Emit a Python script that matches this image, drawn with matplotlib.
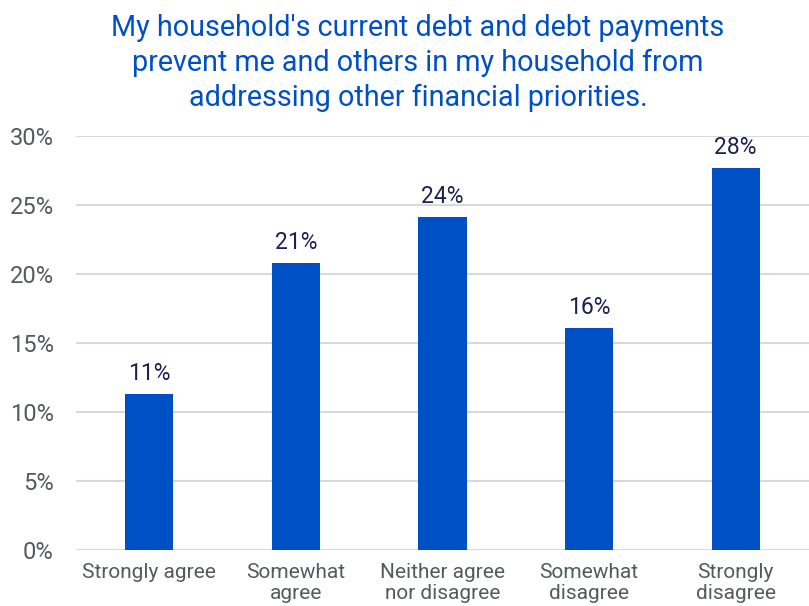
import matplotlib
matplotlib.use("Agg")
import matplotlib.pyplot as plt

categories = ["Strongly agree", "Somewhat\nagree", "Neither agree\nnor disagree",
              "Somewhat\ndisagree", "Strongly\ndisagree"]
values = [11.3, 20.8, 24.1, 16.1, 27.7]
yticks = [0, 5, 10, 15, 20, 25, 30]
title = ("My household's current debt and debt payments\n"
         "prevent me and others in my household from\n"
         "addressing other financial priorities.")

plt.rcParams["font.family"] = ["Roboto", "DejaVu Sans"]

blue = "#0050c5"
fig = plt.figure(figsize=(8.09, 6.06), dpi=100)
ax = fig.add_axes([76 / 809, 1 - 550 / 606, (809 - 76) / 809, (550 - 136) / 606])

x = range(len(categories))
ax.bar(x, values, width=0.33, color=blue, zorder=3)
for xi, v in zip(x, values):
    ax.text(xi, v + 0.65, f"{v:.0f}%", ha="center", va="bottom",
            fontsize=16.5, color="#1b2150")

ax.set_xlim(-0.5, len(categories) - 0.5)
ax.set_ylim(0, 30)
ax.set_yticks(yticks)
ax.set_yticklabels([f"{t}%" for t in yticks], fontsize=17, color="#555a5c")
ax.set_xticks(list(x))
ax.set_xticklabels(categories, fontsize=15, color="#555a5c", linespacing=1.15)
ax.tick_params(axis="both", length=0)
ax.tick_params(axis="y", pad=16)
ax.tick_params(axis="x", pad=9)
ax.grid(axis="y", color="#d9d9d9", linewidth=1.5, zorder=0)
for s in ax.spines.values():
    s.set_visible(False)

fig.text(418 / 809, 1 - 14 / 606, title, ha="center", va="top", fontsize=20.7,
         color=blue, linespacing=1.3)

fig.savefig("out.png", dpi=100)
